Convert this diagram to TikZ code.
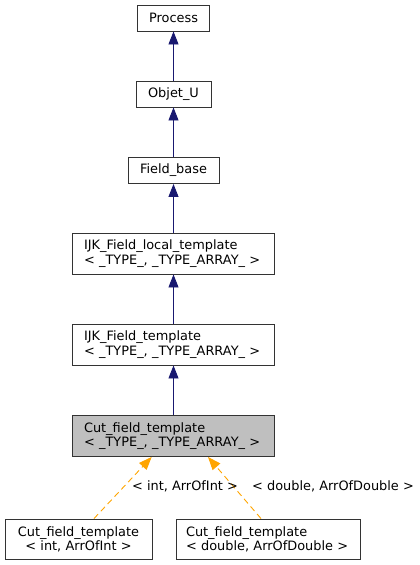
\documentclass[tikz,border=0pt]{standalone}
\usepackage{fontspec}
\setmainfont{DejaVu Sans}
\usetikzlibrary{arrows.meta,calc}
\definecolor{navyedge}{HTML}{191970}
\definecolor{orangeedge}{HTML}{FFA500}
\definecolor{graybox}{HTML}{BFBFBF}
\begin{document}
\begin{tikzpicture}[x=1pt,y=1pt,
  every node/.style={font=\fontsize{12.9}{14.3}\selectfont},
  cls/.style={draw=black!80,line width=0.9pt,fill=white,inner sep=0pt,minimum height=26pt},
  cls2/.style={draw=black!80,line width=0.9pt,fill=white,inner xsep=11.5pt,inner ysep=0pt,minimum height=41pt,align=left},
  inh/.style={draw=navyedge,line width=0.9pt,-{Triangle[length=13pt,width=10pt]}},
  tmpl/.style={draw=orangeedge,line width=0.9pt,dashed,dash pattern=on 6pt off 4pt,-{Triangle[length=13pt,width=10pt]}},
  lbl/.style={inner sep=0pt}]
\useasboundingbox (0,0) rectangle (420,-565);
\node[cls,minimum width=72pt] (process) at (173.5,-18) {Process};
\node[cls,minimum width=75pt] (objet) at (173.5,-94) {Objet\_U};
\node[cls,minimum width=91pt] (field) at (173.5,-170.5) {Field\_base};
\node[cls2,minimum width=202pt,text width=179pt] (ijkl) at (173.5,-253.5) {IJK\_Field\_local\_template\\< \_TYPE\_, \_TYPE\_ARRAY\_ >};
\node[cls2,minimum width=202pt,text width=179pt] (ijk) at (173.5,-344.5) {IJK\_Field\_template\\< \_TYPE\_, \_TYPE\_ARRAY\_ >};
\node[cls2,fill=graybox,minimum width=202pt,text width=179pt] (cut) at (173.5,-436) {Cut\_field\_template\\< \_TYPE\_, \_TYPE\_ARRAY\_ >};
\node[cls2,minimum width=147pt,minimum height=40pt,text width=124pt,align=center] (bl) at (78.5,-539) {Cut\_field\_template\\< int, ArrOfInt >};
\node[cls2,inner xsep=10pt,minimum width=184pt,minimum height=40pt,text width=164pt] (br) at (268,-539) {Cut\_field\_template\\< double, ArrOfDouble >};
\draw[inh] (objet.north) -- (process.south);
\draw[inh] (field.north) -- (objet.south);
\draw[inh] (ijkl.north) -- (field.south);
\draw[inh] (ijk.north) -- (ijkl.south);
\draw[inh] (cut.north) -- (ijk.south);
\draw[tmpl] ([xshift=15.5pt]bl.north) -- ([xshift=-21.8pt]cut.south);
\draw[tmpl] ([xshift=-7pt]br.north) -- ([xshift=34.5pt]cut.south);
\node[lbl] (lint) at (185,-486) {< int, ArrOfInt >};
\node[lbl] (ldouble) at (333,-486) {< double, ArrOfDouble >};
\end{tikzpicture}
\end{document}
